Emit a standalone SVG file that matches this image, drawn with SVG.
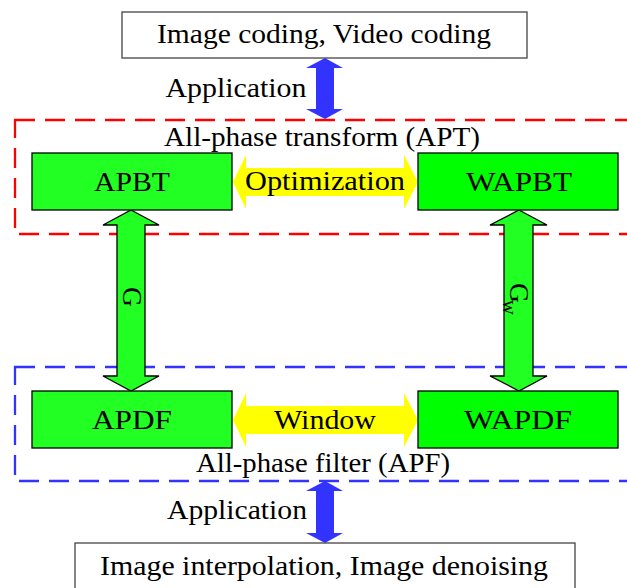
<svg xmlns="http://www.w3.org/2000/svg" width="627" height="588" viewBox="0 0 627 588">
<style>
text{font-family:"Liberation Serif","DejaVu Serif",serif;font-size:27px;fill:#000;text-anchor:middle}
.box{fill:#fff;stroke:#444;stroke-width:1.3}
.g1{fill:#22ff22;stroke:#000;stroke-width:1.3}
.g2{fill:#00ff00;stroke:#000;stroke-width:1.3}
.blue{fill:#3333ff}
.yel{fill:#ffff00}
.garr{fill:#22ff22;stroke:#000;stroke-width:1.3}
.dr{fill:none;stroke:#ff0000;stroke-width:2.3;stroke-dasharray:20 10}
.db{fill:none;stroke:#3333ff;stroke-width:2.3;stroke-dasharray:20 10}
</style>
<rect width="627" height="588" fill="#fff"/>
<g id="apt-group"><rect class="dr" x="15" y="120" width="630" height="114"/><text x="322" y="146" textLength="316" lengthAdjust="spacingAndGlyphs">All-phase transform (APT)</text></g>
<g id="apf-group"><rect class="db" x="15" y="367" width="630" height="114"/><text x="323" y="472" textLength="254" lengthAdjust="spacingAndGlyphs">All-phase filter (APF)</text></g>
<g id="connectors">
<polygon class="blue" points="325,58 343,68 334,68 334,109 343,109 325,119 306,109 316,109 316,68 306,68"/>
<text x="236" y="97" textLength="141" lengthAdjust="spacingAndGlyphs">Application</text>
<polygon class="blue" points="325,481 343,491 334,491 334,533 343,533 325,543 306,533 316,533 316,491 306,491"/>
<text x="237" y="519" textLength="140" lengthAdjust="spacingAndGlyphs">Application</text>
<polygon class="yel" points="233,182 246,155 246,168 404,168 404,155 418,182 404,209 404,196 246,196 246,209"/>
<text x="325" y="190" textLength="160" lengthAdjust="spacingAndGlyphs">Optimization</text>
<polygon class="yel" points="233,420 246,393 246,406 404,406 404,393 418,420 404,447 404,434 246,434 246,447"/>
<text x="325" y="429" textLength="102" lengthAdjust="spacingAndGlyphs">Window</text>
<polygon class="garr" points="131,210 159,225 145,225 145,376 159,376 131,391 103,376 117,376 117,225 103,225"/>
<text transform="translate(123,297) rotate(90)" font-size="29">G</text>
<polygon class="garr" points="519,210 547,225 533,225 533,376 547,376 519,391 490,376 504,376 504,225 490,225"/>
<text transform="translate(510,299) rotate(90)" font-size="29">G<tspan font-size="21" dy="7" dx="-3">w</tspan></text>
</g>
<g id="top"><rect class="box" x="122" y="12" width="405" height="46"/><text x="324" y="43" textLength="334" lengthAdjust="spacingAndGlyphs">Image coding, Video coding</text></g>
<g id="apbt"><rect class="g1" x="32" y="153" width="200" height="57"/><text x="132" y="191" textLength="76" lengthAdjust="spacingAndGlyphs">APBT</text></g>
<g id="wapbt"><rect class="g2" x="418" y="153" width="200" height="57"/><text x="519" y="191" textLength="106" lengthAdjust="spacingAndGlyphs">WAPBT</text></g>
<g id="apdf"><rect class="g1" x="32" y="391" width="200" height="57"/><text x="132" y="429" textLength="80" lengthAdjust="spacingAndGlyphs">APDF</text></g>
<g id="wapdf"><rect class="g2" x="418" y="391" width="200" height="57"/><text x="518" y="429" textLength="108" lengthAdjust="spacingAndGlyphs">WAPDF</text></g>
<g id="bottom"><rect class="box" x="75" y="543" width="500" height="60"/><text x="324" y="575" textLength="448" lengthAdjust="spacingAndGlyphs">Image interpolation, Image denoising</text></g>
</svg>
